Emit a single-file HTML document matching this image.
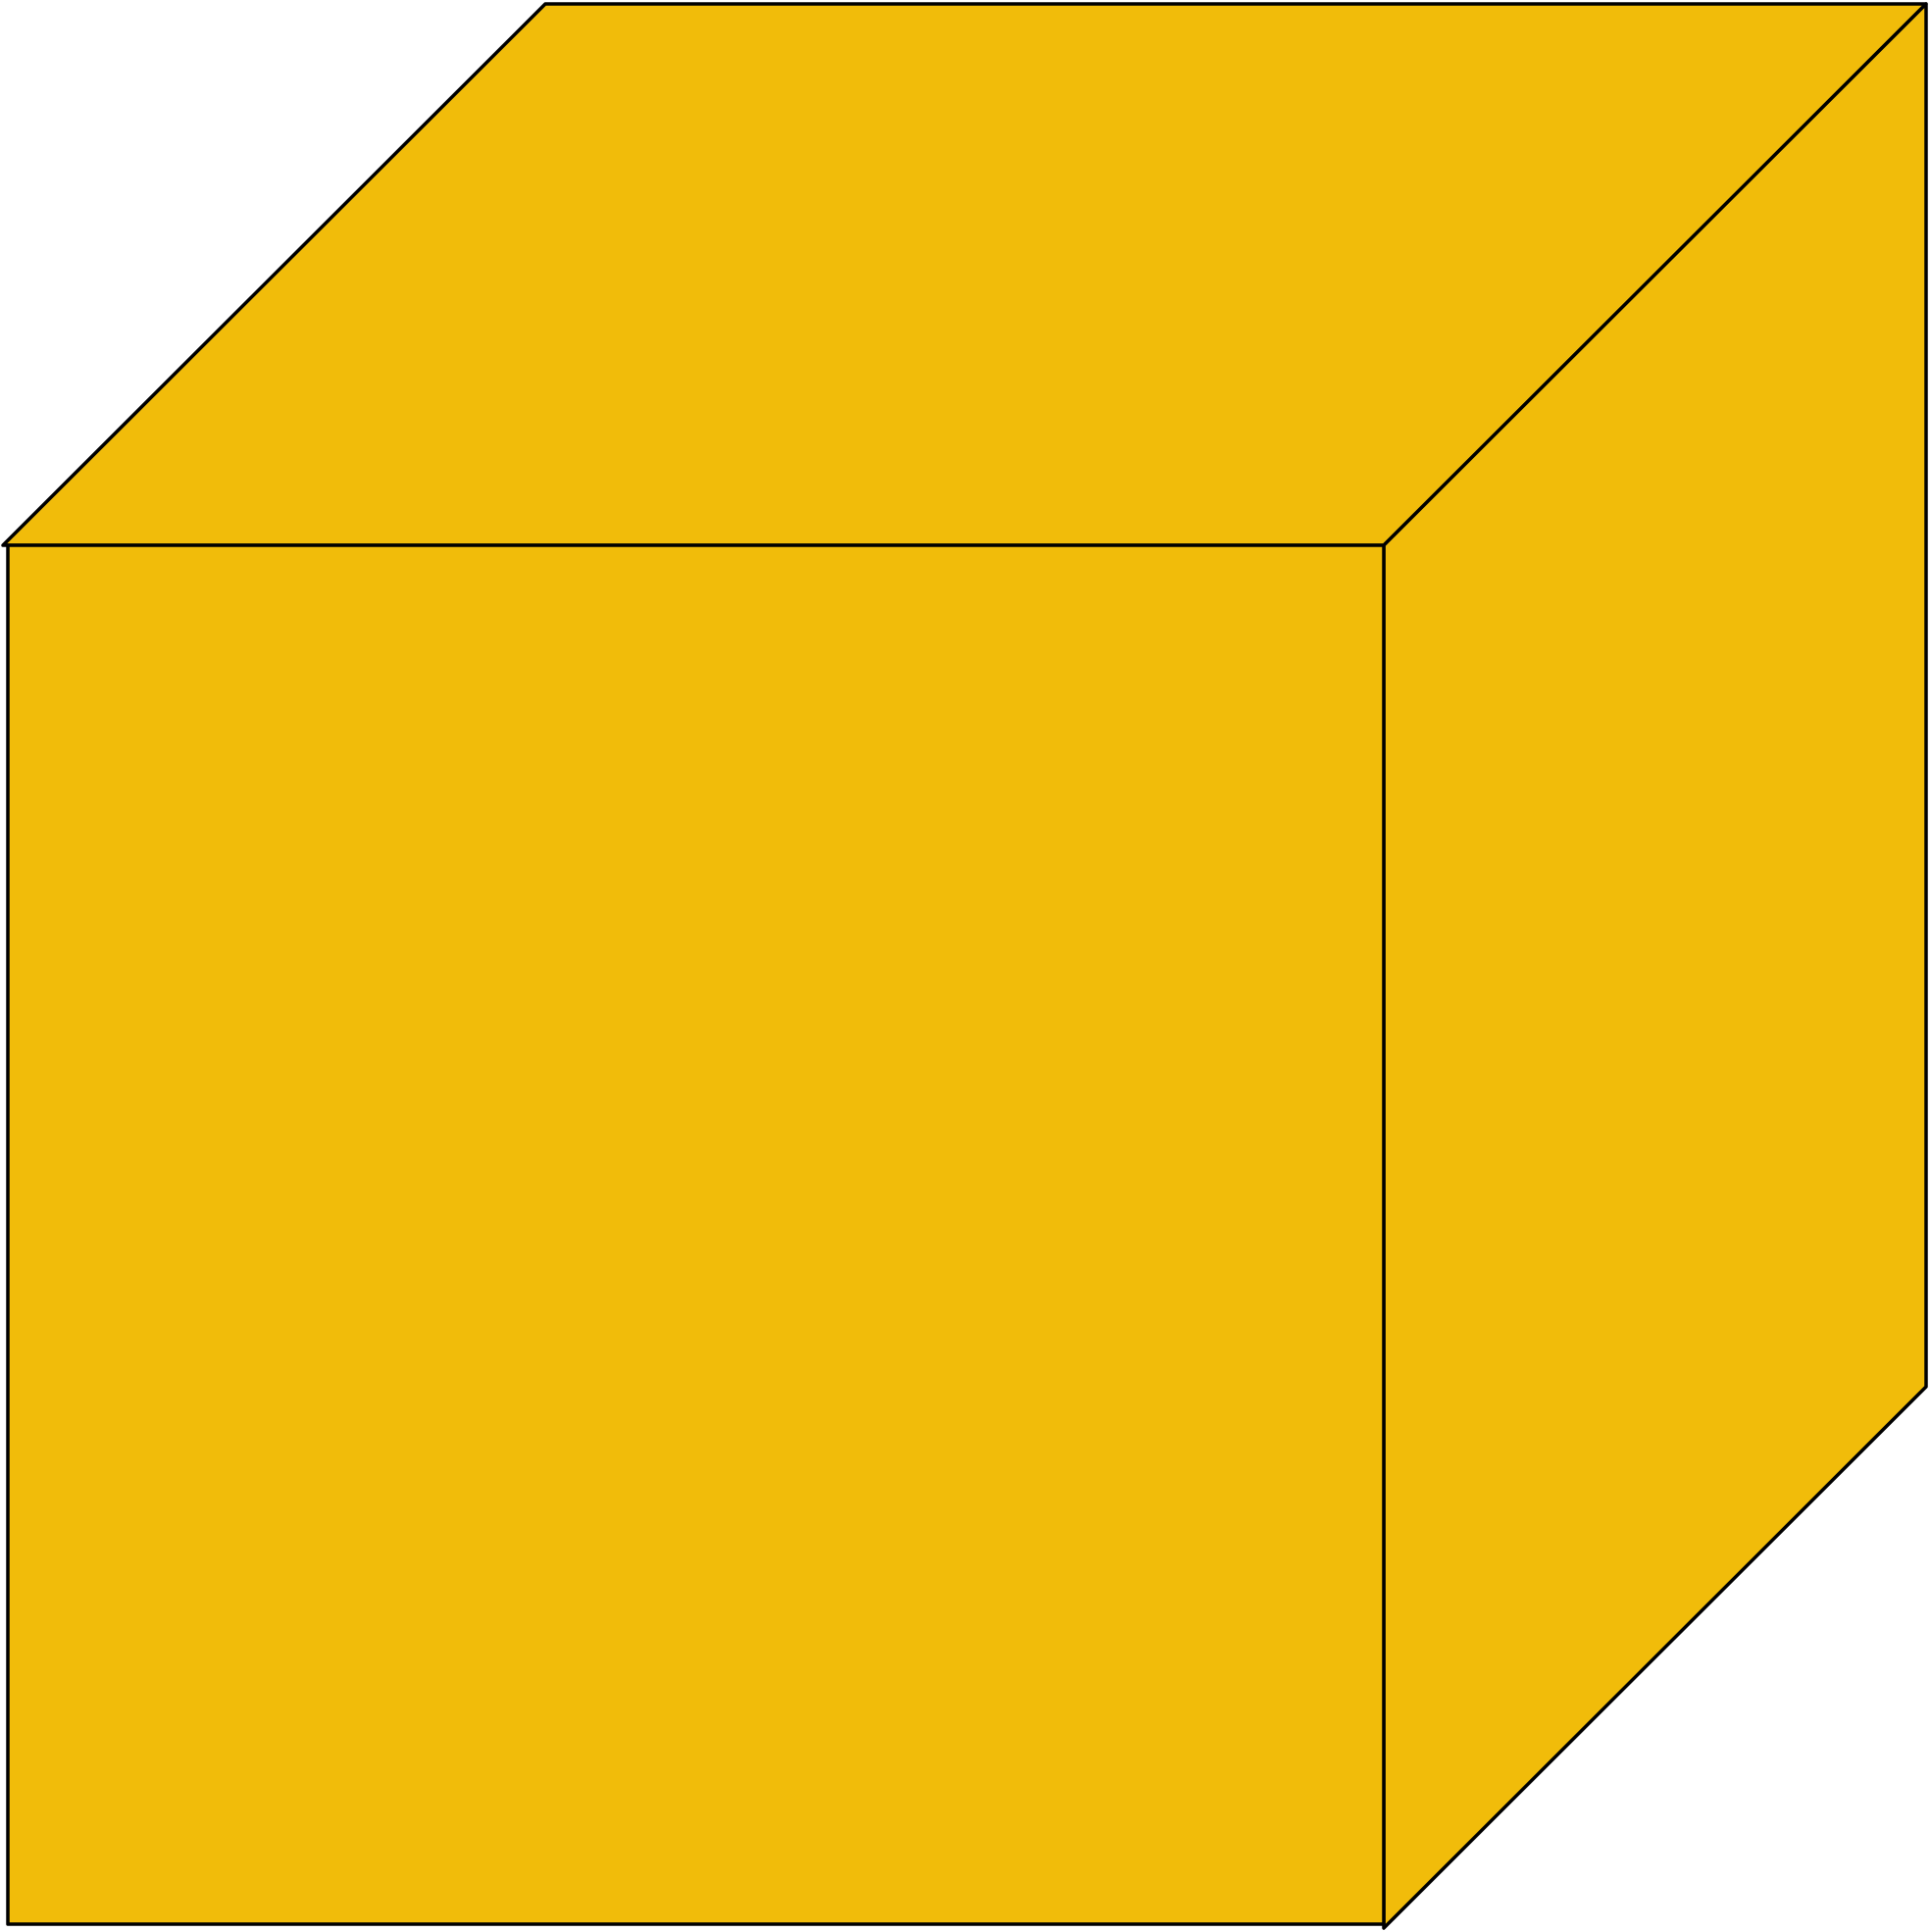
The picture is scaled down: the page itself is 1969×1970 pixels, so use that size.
<!DOCTYPE html>
<html><head><style>html,body{margin:0;padding:0;background:#fff}svg{display:block}</style></head>
<body>
<svg width="1969" height="1970" viewBox="0 0 1969 1970">
<g stroke="#000" stroke-width="3.5" fill="#F1BC0A" stroke-linejoin="round">
<polygon points="3,556 556,4 1964,4 1411,556"/>
<polygon points="1411,556 1964,4 1964,1414 1411,1966"/>
<rect x="8" y="556" width="1403" height="1406"/>
</g>
</svg>
</body></html>
